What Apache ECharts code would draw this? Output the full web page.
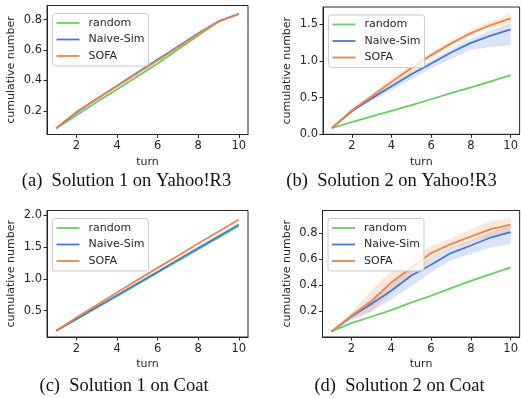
<!DOCTYPE html>
<html>
<head>
<meta charset="utf-8">
<script src="https://cdn.jsdelivr.net/npm/echarts@6/dist/echarts.min.js"></script>
<style>
html,body{margin:0;padding:0;background:#fff;}
#c{width:521px;height:398px;}
</style>
</head>
<body>
<div id="c"></div>
<script>
const turns = [1,2,3,4,5,6,7,8,9,10];
const xTicks = [2,4,6,8,10];
const seriesNames = ['random','Naive-Sim','SOFA'];

// (a) Solution 1 on Yahoo!R3
const aRandom = [0.085,0.172,0.258,0.342,0.427,0.512,0.603,0.695,0.786,0.837];
const aNaive  = [0.087,0.190,0.279,0.366,0.452,0.538,0.624,0.710,0.790,0.838];
const aSofa   = [0.087,0.194,0.280,0.362,0.447,0.532,0.618,0.705,0.788,0.837];
const aTicks  = [0.2,0.4,0.6,0.8];

// (b) Solution 2 on Yahoo!R3
const bRandom = [0.086,0.165,0.243,0.320,0.398,0.478,0.560,0.640,0.722,0.806];
const bNaive  = [0.086,0.314,0.490,0.656,0.820,0.966,1.115,1.247,1.345,1.430];
const bSofa   = [0.086,0.328,0.520,0.715,0.905,1.080,1.240,1.380,1.490,1.580];
const bNaiveLo = [0.086,0.300,0.455,0.600,0.750,0.900,1.030,1.148,1.190,1.216];
const bNaiveHi = [0.086,0.330,0.520,0.690,0.860,1.010,1.160,1.307,1.420,1.510];
const bSofaLo  = [0.086,0.320,0.500,0.670,0.860,1.040,1.200,1.350,1.450,1.510];
const bSofaHi  = [0.086,0.340,0.550,0.760,0.950,1.120,1.280,1.420,1.540,1.650];
const bTicks  = [0.0,0.5,1.0,1.5];

// (c) Solution 1 on Coat
const cRandom = [0.180,0.360,0.545,0.728,0.912,1.097,1.282,1.467,1.650,1.833];
const cNaive  = [0.182,0.370,0.556,0.742,0.928,1.113,1.300,1.487,1.673,1.858];
const cSofa   = [0.182,0.390,0.588,0.785,0.980,1.173,1.365,1.557,1.748,1.937];
const cTicks  = [0.5,1.0,1.5,2.0];

// (d) Solution 2 on Coat
const dRandom = [0.046,0.110,0.159,0.210,0.268,0.320,0.379,0.434,0.486,0.537];
const dNaive  = [0.046,0.161,0.256,0.358,0.473,0.557,0.647,0.705,0.766,0.808];
const dSofa   = [0.046,0.166,0.276,0.422,0.532,0.647,0.716,0.774,0.831,0.864];
const dNaiveLo = [0.046,0.130,0.200,0.290,0.390,0.500,0.590,0.640,0.690,0.716];
const dNaiveHi = [0.046,0.180,0.300,0.420,0.530,0.610,0.690,0.746,0.810,0.858];
const dSofaLo  = [0.046,0.140,0.200,0.340,0.470,0.610,0.680,0.730,0.770,0.797];
const dSofaHi  = [0.046,0.190,0.360,0.510,0.610,0.700,0.760,0.830,0.890,0.917];
const dTicks  = [0.2,0.4,0.6,0.8];

const captions = ['(a)\u2002Solution 1 on Yahoo!R3','(b)\u2002Solution 2 on Yahoo!R3','(c)\u2002Solution 1 on Coat','(d)\u2002Solution 2 on Coat'];

const COLORS = {random:'#6acc64','Naive-Sim':'#4878d0',SOFA:'#ee854a'};
const BAND = {'Naive-Sim':'rgba(72,120,208,0.2)',SOFA:'rgba(238,133,74,0.2)'};
const FONT = 'DejaVu Sans';
const AX = '#262626';

const panels = [
  {grid:{left:47,top:5.5,width:201,height:129}, y:[0.045,0.893], ticks:aTicks,
   lines:[aRandom,aNaive,aSofa], bands:[], cap:[126.5,181]},
  {grid:{left:323,top:7,width:201,height:127.3}, y:[0,1.736], ticks:bTicks,
   lines:[bRandom,bNaive,bSofa], bands:[['Naive-Sim',bNaiveLo,bNaiveHi],['SOFA',bSofaLo,bSofaHi]], cap:[391.5,181]},
  {grid:{left:47,top:210.5,width:201,height:126.5}, y:[0.083,2.078], ticks:cTicks,
   lines:[cRandom,cNaive,cSofa], bands:[], cap:[124,386]},
  {grid:{left:322.5,top:210.5,width:201,height:126.5}, y:[0.004,0.973], ticks:dTicks,
   lines:[dRandom,dNaive,dSofa], bands:[['Naive-Sim',dNaiveLo,dNaiveHi],['SOFA',dSofaLo,dSofaHi]], cap:[399.5,386]}
];

const grid=[], xAxis=[], yAxis=[], series=[], legend=[], graphic=[];
panels.forEach((p,i)=>{
  grid.push(Object.assign({show:true,borderColor:AX,borderWidth:1,backgroundColor:'transparent'},p.grid));
  xAxis.push({type:'value',gridIndex:i,min:0.55,max:10.45,
    name:'turn',nameLocation:'middle',nameGap:22,
    nameTextStyle:{fontFamily:FONT,fontSize:11,color:AX},
    axisLine:{show:true,lineStyle:{color:AX,width:1}},
    axisTick:{show:true,inside:false,length:3.5,lineStyle:{color:AX,width:1},customValues:xTicks},
    axisLabel:{show:true,margin:6,fontFamily:FONT,fontSize:11.5,color:AX,customValues:xTicks,formatter:v=>String(v)},
    splitLine:{show:false}});
  yAxis.push({type:'value',gridIndex:i,min:p.y[0],max:p.y[1],
    name:'cumulative number',nameLocation:'middle',nameGap:30,
    nameTextStyle:{fontFamily:FONT,fontSize:11,color:AX},
    axisLine:{show:true,lineStyle:{color:AX,width:1}},
    axisTick:{show:true,inside:false,length:3.5,lineStyle:{color:AX,width:1},customValues:p.ticks},
    axisLabel:{show:true,margin:5,fontFamily:FONT,fontSize:11.5,color:AX,customValues:p.ticks,formatter:v=>v.toFixed(1)},
    splitLine:{show:false}});
  p.bands.forEach(([name,lo,hi])=>{
    series.push({type:'custom',xAxisIndex:i,yAxisIndex:i,silent:true,z:1,clip:true,
      data:[[turns[0],lo[0]]],
      renderItem:(params,api)=>{
        const pts=[];
        for(let k=0;k<turns.length;k++) pts.push(api.coord([turns[k],hi[k]]));
        for(let k=turns.length-1;k>=0;k--) pts.push(api.coord([turns[k],lo[k]]));
        return {type:'polygon',shape:{points:pts},style:{fill:BAND[name],stroke:null}};
      }});
  });
  p.lines.forEach((vals,j)=>{
    const name=seriesNames[j];
    series.push({type:'line',name:name,xAxisIndex:i,yAxisIndex:i,z:2+j,
      showSymbol:false,symbol:'none',animation:false,
      itemStyle:{color:COLORS[name]},
      lineStyle:{color:COLORS[name],width:1.8},
      data:turns.map((t,k)=>[t,vals[k]])});
  });
  legend.push({data:seriesNames,orient:'vertical',
    left:p.grid.left+5.5, top:p.grid.top+8,
    icon:'rect',itemWidth:23,itemHeight:1.8,itemGap:2.5,
    padding:[2.5,4,3,4],
    backgroundColor:'rgba(255,255,255,0.8)',borderColor:'#cccccc',borderWidth:1,borderRadius:3,
    textStyle:{fontFamily:FONT,fontSize:11,color:AX,lineHeight:14,padding:[0,0,0,4]},
    selectedMode:false,z:10});
  graphic.push({type:'text',x:p.cap[0],y:p.cap[1],
    style:{text:captions[i],fill:'#111',font:'18.5px "Liberation Serif"',textAlign:'center',textVerticalAlign:'middle'}});
});

const chart = echarts.init(document.getElementById('c'),null,{renderer:'canvas'});
chart.setOption({animation:false,grid,xAxis,yAxis,series,legend,graphic});
</script>
</body>
</html>
